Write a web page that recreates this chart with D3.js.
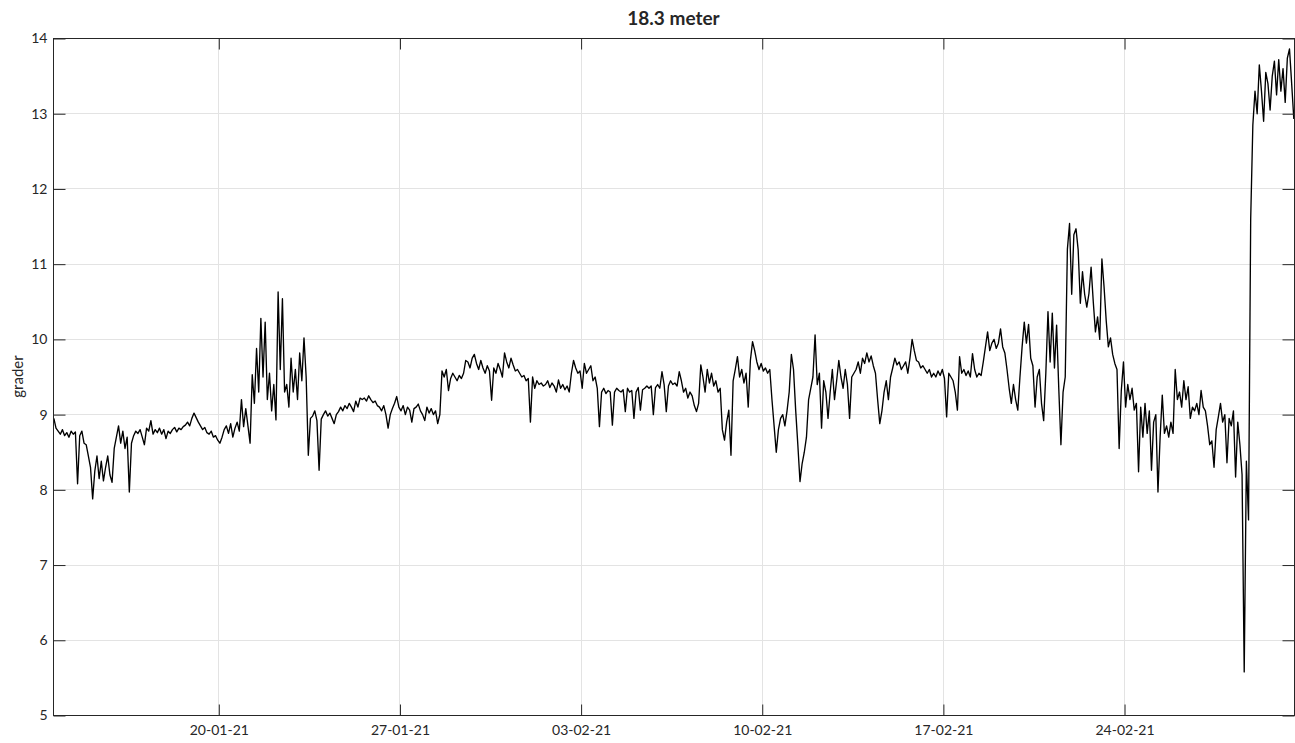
<!DOCTYPE html>
<html>
<head>
<meta charset="utf-8">
<script src="https://cdn.jsdelivr.net/npm/d3@7"></script>
<style>
  html, body { margin: 0; padding: 0; background: #fff; }
  svg { display: block; }
  text { font-family: Lato, "Open Sans", sans-serif; fill: #262626; }
</style>
</head>
<body>
<svg id="chart" width="1295" height="743"></svg>
<script>
// Temperature readings (grader) at 18.3 m depth, one value every 2 hours,
// starting 13-01-21 15:00. Grouped per week, 12 readings per day.
const week1 = [
  8.95, 8.82, 8.78, 8.74, 8.80, 8.72, 8.76, 8.70, 8.78, 8.74, 8.77, 8.08,
  8.72, 8.78, 8.62, 8.60, 8.45, 8.30, 7.88, 8.25, 8.45, 8.15, 8.38, 8.12,
  8.30, 8.45, 8.20, 8.10, 8.55, 8.70, 8.85, 8.62, 8.78, 8.55, 8.70, 7.97,
  8.62, 8.72, 8.78, 8.75, 8.80, 8.70, 8.60, 8.82, 8.78, 8.92, 8.74, 8.80,
  8.76, 8.82, 8.74, 8.80, 8.68, 8.78, 8.75, 8.80, 8.83, 8.77, 8.82, 8.80,
  8.84, 8.86, 8.90, 8.85, 8.95, 9.02, 8.96, 8.90, 8.85, 8.80, 8.83, 8.76,
  8.74, 8.78, 8.70, 8.72, 8.66, 8.62, 8.70, 8.80, 8.85, 8.75, 8.88, 8.70
];
const week2 = [
  8.82, 8.90, 8.78, 9.20, 8.84, 9.08, 8.85, 8.62, 9.53, 9.15, 9.88, 9.30,
  10.28, 9.50, 10.23, 9.20, 9.55, 9.05, 9.40, 8.93, 10.63, 9.60, 10.54, 9.30,
  9.40, 9.10, 9.75, 9.30, 9.60, 9.20, 9.82, 9.45, 10.02, 9.50, 8.46, 8.95,
  8.98, 9.05, 8.92, 8.26, 8.94, 9.00, 9.05, 8.98, 9.02, 8.95, 8.88, 9.00,
  9.04, 9.10, 9.05, 9.12, 9.08, 9.15, 9.10, 9.04, 9.18, 9.10, 9.22, 9.20,
  9.22, 9.18, 9.25, 9.20, 9.16, 9.18, 9.12, 9.10, 9.05, 9.12, 9.00, 8.82,
  9.00, 9.08, 9.15, 9.24, 9.10, 9.05, 9.12, 9.00, 9.10, 9.06, 8.90, 9.08
];
const week3 = [
  9.10, 9.14, 9.05, 9.00, 8.92, 9.10, 9.02, 9.08, 9.00, 9.05, 8.88, 9.00,
  9.58, 9.50, 9.60, 9.32, 9.48, 9.55, 9.50, 9.45, 9.52, 9.48, 9.55, 9.72,
  9.70, 9.62, 9.75, 9.80, 9.68, 9.60, 9.72, 9.62, 9.55, 9.65, 9.58, 9.19,
  9.62, 9.55, 9.68, 9.60, 9.50, 9.82, 9.70, 9.62, 9.75, 9.66, 9.58, 9.60,
  9.55, 9.50, 9.52, 9.45, 9.48, 8.90, 9.50, 9.35, 9.45, 9.40, 9.42, 9.38,
  9.40, 9.45, 9.36, 9.42, 9.38, 9.30, 9.46, 9.35, 9.40, 9.33, 9.38, 9.30,
  9.55, 9.72, 9.62, 9.55, 9.58, 9.35, 9.68, 9.55, 9.60, 9.65, 9.45, 9.50
];
const week4 = [
  9.35, 8.84, 9.30, 9.35, 9.28, 9.32, 9.30, 8.86, 9.30, 9.35, 9.32, 9.30,
  9.33, 9.04, 9.35, 9.30, 9.32, 8.95, 9.30, 9.36, 9.06, 9.33, 9.35, 9.38,
  9.35, 9.38, 9.00, 9.36, 9.40, 9.35, 9.57, 9.40, 9.04, 9.38, 9.45, 9.40,
  9.42, 9.38, 9.57, 9.45, 9.30, 9.35, 9.22, 9.30, 9.25, 9.12, 9.04, 9.15,
  9.66, 9.50, 9.30, 9.60, 9.42, 9.55, 9.38, 9.45, 9.30, 9.35, 8.80, 8.66,
  8.90, 9.06, 8.46, 9.45, 9.60, 9.77, 9.50, 9.60, 9.42, 9.55, 9.10, 9.72,
  9.97, 9.85, 9.70, 9.60, 9.68, 9.58, 9.62, 9.55, 9.60, 9.20, 8.85, 8.50
];
const week5 = [
  8.80, 8.95, 9.00, 8.85, 9.05, 9.30, 9.80, 9.60, 9.06, 8.60, 8.11, 8.35,
  8.50, 8.70, 9.20, 9.35, 9.50, 10.06, 9.40, 9.55, 8.82, 9.45, 9.30, 8.95,
  9.30, 9.60, 9.20, 9.45, 9.72, 9.50, 9.35, 9.60, 9.40, 8.95, 9.50, 9.55,
  9.60, 9.70, 9.55, 9.75, 9.68, 9.82, 9.70, 9.78, 9.65, 9.55, 9.20, 8.88,
  9.05, 9.30, 9.45, 9.20, 9.50, 9.62, 9.75, 9.66, 9.70, 9.60, 9.65, 9.70,
  9.55, 9.75, 10.00, 9.85, 9.72, 9.70, 9.62, 9.65, 9.60, 9.55, 9.60, 9.50,
  9.55, 9.50, 9.58, 9.52, 9.60, 9.48, 8.97, 9.55, 9.50, 9.45, 9.30, 9.06
];
const week6 = [
  9.77, 9.55, 9.60, 9.52, 9.58, 9.50, 9.81, 9.60, 9.50, 9.55, 9.52, 9.70,
  9.90, 10.10, 9.85, 9.95, 10.00, 9.88, 9.95, 10.14, 9.90, 9.82, 9.60, 9.35,
  9.15, 9.40, 9.20, 9.06, 9.50, 9.90, 10.23, 9.95, 10.20, 9.75, 9.65, 9.10,
  9.50, 9.60, 9.15, 8.92, 9.55, 10.37, 9.70, 10.35, 9.62, 10.19, 9.35, 8.60,
  9.30, 9.50, 11.20, 11.54, 10.60, 11.39, 11.47, 11.19, 10.48, 10.90, 10.60, 10.43,
  10.61, 10.96, 10.50, 10.10, 10.30, 10.00, 11.07, 10.70, 10.25, 9.90, 10.02, 9.80,
  9.68, 9.60, 8.55, 9.32, 9.70, 9.10, 9.40, 9.20, 9.35, 9.06, 9.15, 8.24
];
const week7 = [
  9.10, 8.70, 9.15, 8.75, 9.05, 8.26, 8.90, 9.00, 7.97, 8.70, 9.26, 8.75,
  8.85, 8.70, 8.90, 8.75, 9.60, 9.20, 9.30, 9.10, 9.45, 9.20, 9.37, 8.95,
  9.10, 9.05, 9.15, 9.00, 9.32, 9.10, 9.05, 8.85, 8.60, 8.65, 8.30, 8.80,
  8.97, 9.15, 8.90, 9.00, 8.36, 8.95, 8.85, 9.05, 8.17, 8.90, 8.60, 8.20,
  5.58, 8.38, 7.60, 11.60, 12.85, 13.30, 13.00, 13.65, 13.30, 12.90, 13.55, 13.40,
  13.05, 13.50, 13.70, 13.25, 13.72, 13.30, 13.60, 13.15, 13.74, 13.86, 13.40, 12.93
];

const seriesStart = Date.UTC(2021, 0, 13, 15, 0);
const stepMs = 2 * 3600 * 1000;

const xTickDates = ["20-01-21", "27-01-21", "03-02-21", "10-02-21", "17-02-21", "24-02-21"];
const yTicks = [5, 6, 7, 8, 9, 10, 11, 12, 13, 14];

const titleText = "18.3 meter";
const yLabelText = "grader";

// ---- layout ----
const W = 1295, H = 743;
const margin = { left: 53, right: 1, top: 38, bottom: 28 };
const plotW = W - margin.left - margin.right;
const plotH = H - margin.top - margin.bottom;

const parseTick = d3.utcParse("%d-%m-%y");
const fmtTick = d3.utcFormat("%d-%m-%y");

const values = [].concat(week1, week2, week3, week4, week5, week6, week7);
const data = values.map((v, i) => ({ t: new Date(seriesStart + i * stepMs), v }));

const x = d3.scaleUtc()
  .domain([new Date(Date.UTC(2021, 0, 13, 14, 41)), new Date(Date.UTC(2021, 2, 2, 13, 38))])
  .range([0, plotW]);
const y = d3.scaleLinear().domain([5, 14]).range([plotH, 0]);

const svg = d3.select("#chart");
const g = svg.append("g").attr("transform", `translate(${margin.left + 0.5},${margin.top + 0.5})`);

const tickVals = xTickDates.map(parseTick);

// grid
g.append("g").attr("class", "grid")
  .selectAll("line.gx").data(tickVals).join("line")
  .attr("x1", d => Math.round(x(d))).attr("x2", d => Math.round(x(d)))
  .attr("y1", 0).attr("y2", plotH)
  .attr("stroke", "#e3e3e3").attr("stroke-width", 1);
g.append("g").attr("class", "grid")
  .selectAll("line.gy").data(yTicks).join("line")
  .attr("y1", d => Math.round(y(d))).attr("y2", d => Math.round(y(d)))
  .attr("x1", 0).attr("x2", plotW)
  .attr("stroke", "#e3e3e3").attr("stroke-width", 1);

// temperature line
const line = d3.line().x(d => x(d.t)).y(d => y(d.v));
g.append("path").datum(data)
  .attr("d", line)
  .attr("fill", "none")
  .attr("stroke", "#000")
  .attr("stroke-width", 1.35)
  .attr("stroke-linejoin", "round");

// axes with inward ticks
const axisColor = "#262626";
function styleAxis(sel) {
  sel.select(".domain").remove();
  sel.selectAll(".tick line").attr("stroke", axisColor);
  sel.selectAll(".tick text").attr("fill", axisColor)
    .style("font-family", "Lato, 'Open Sans', sans-serif").style("font-size", "14px");
}

g.append("g").attr("transform", `translate(0,${plotH})`)
  .call(d3.axisBottom(x).tickValues(tickVals).tickFormat(fmtTick).tickSize(-11).tickPadding(10))
  .call(styleAxis);
g.append("g")
  .call(d3.axisTop(x).tickValues(tickVals).tickFormat("").tickSize(-11))
  .call(styleAxis);
g.append("g")
  .call(d3.axisLeft(y).tickValues(yTicks).tickFormat(d3.format("d")).tickSize(-12).tickPadding(6))
  .call(styleAxis);
g.append("g").attr("transform", `translate(${plotW},0)`)
  .call(d3.axisRight(y).tickValues(yTicks).tickFormat("").tickSize(-12))
  .call(styleAxis);

// frame
g.append("rect")
  .attr("x", 0).attr("y", 0).attr("width", plotW).attr("height", plotH)
  .attr("fill", "none").attr("stroke", axisColor).attr("stroke-width", 1);

// title and axis label
svg.append("text")
  .attr("x", margin.left + plotW / 2).attr("y", 25)
  .attr("text-anchor", "middle")
  .style("font-size", "19px").style("font-weight", "bold")
  .attr("fill", "#000")
  .text(titleText);

svg.append("text")
  .attr("transform", `translate(23,${margin.top + plotH / 2}) rotate(-90)`)
  .attr("text-anchor", "middle")
  .style("font-size", "15px")
  .text(yLabelText);
</script>
</body>
</html>
